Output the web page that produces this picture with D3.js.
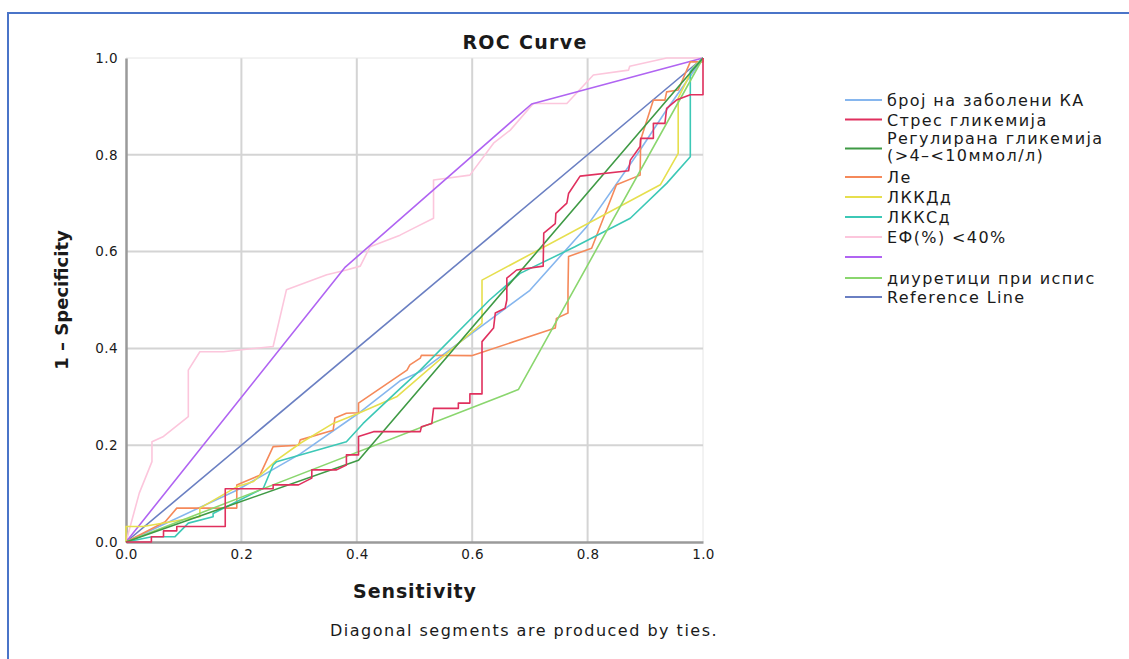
<!DOCTYPE html>
<html>
<head>
<meta charset="utf-8">
<script src="https://cdn.jsdelivr.net/npm/d3@7"></script>
<style>
  html, body { margin: 0; padding: 0; background: #fff; }
  svg { display: block; }
  text { font-family: "DejaVu Sans", "Noto Sans", sans-serif; fill: #1a1a1a; }
</style>
</head>
<body>
<svg id="chart" width="1129" height="659"></svg>
<script>
// Axis ticks
const tickValues = [0, 0.2, 0.4, 0.6, 0.8, 1.0];

// Series names, in legend order
const seriesNames = [
  "број на заболени КА",
  "Стрес гликемија",
  "Регулирана гликемија\n(>4–<10ммол/л)",
  "Ле",
  "ЛККДд",
  "ЛККСд",
  "ЕФ(%) <40%",
  "",
  "диуретици при испис",
  "Reference Line"
];
const seriesColors = [
  "#86b6ee", "#e0305e", "#3f9a45", "#f5895a", "#e6df4e",
  "#3cc8b6", "#fcc6dc", "#b064f2", "#8ad66e", "#6a7fc2"
];

// ROC coordinates [x, y] for each variable
const brojKA = [[0,0],[0.192,0.107],[0.302,0.182],[0.403,0.266],[0.475,0.333],[0.51,0.352],[0.70,0.52],[0.798,0.651],[0.891,0.81],[0.937,0.893],[1,1]];
const stresGlik = [[0,0],[0.044,0],[0.044,0.011],[0.065,0.011],[0.065,0.023],[0.088,0.023],[0.088,0.032],[0.172,0.032],[0.172,0.11],[0.192,0.11],[0.255,0.11],[0.255,0.118],[0.299,0.118],[0.322,0.132],[0.322,0.149],[0.365,0.149],[0.382,0.159],[0.382,0.18],[0.403,0.18],[0.403,0.218],[0.429,0.228],[0.51,0.228],[0.512,0.238],[0.53,0.245],[0.533,0.276],[0.576,0.276],[0.576,0.287],[0.596,0.287],[0.596,0.306],[0.617,0.306],[0.617,0.414],[0.637,0.442],[0.64,0.473],[0.657,0.483],[0.66,0.5],[0.66,0.545],[0.677,0.562],[0.723,0.570],[0.724,0.638],[0.744,0.658],[0.745,0.679],[0.764,0.70],[0.767,0.72],[0.787,0.756],[0.871,0.767],[0.874,0.789],[0.891,0.817],[0.892,0.834],[0.914,0.834],[0.914,0.865],[0.934,0.865],[0.937,0.896],[0.954,0.913],[0.978,0.924],[1,0.924],[1,1]];
const regGlik = [[0,0],[0.403,0.169],[1,1]];
const le = [[0,0],[0.068,0.042],[0.088,0.07],[0.192,0.07],[0.192,0.118],[0.232,0.138],[0.255,0.197],[0.299,0.2],[0.302,0.211],[0.359,0.231],[0.362,0.256],[0.382,0.266],[0.403,0.267],[0.403,0.287],[0.487,0.355],[0.492,0.366],[0.51,0.38],[0.512,0.386],[0.599,0.385],[0.744,0.442],[0.746,0.462],[0.766,0.473],[0.766,0.52],[0.767,0.59],[0.807,0.607],[0.85,0.738],[0.891,0.758],[0.892,0.831],[0.914,0.913],[0.934,0.913],[0.937,0.93],[0.957,0.934],[0.978,0.992],[1,0.992],[1,1]];
const lkkdd = [[0,0],[0,0.032],[0.03,0.032],[0.128,0.052],[0.128,0.07],[0.192,0.114],[0.221,0.125],[0.261,0.169],[0.302,0.204],[0.359,0.245],[0.403,0.266],[0.469,0.30],[0.617,0.452],[0.617,0.541],[0.926,0.738],[0.957,0.803],[0.957,0.917],[0.984,0.982],[1,1]];
const lkksd = [[0,0],[0.045,0.011],[0.085,0.011],[0.108,0.039],[0.151,0.052],[0.151,0.059],[0.238,0.111],[0.255,0.159],[0.261,0.166],[0.382,0.207],[0.411,0.245],[0.475,0.317],[0.51,0.355],[0.63,0.50],[0.683,0.555],[0.778,0.61],[0.874,0.669],[0.937,0.741],[0.978,0.796],[0.978,0.972],[1,1]];
const ef40 = [[0,0],[0.023,0.101],[0.045,0.166],[0.045,0.207],[0.065,0.218],[0.108,0.259],[0.108,0.355],[0.128,0.393],[0.169,0.393],[0.255,0.404],[0.278,0.521],[0.348,0.552],[0.382,0.562],[0.406,0.570],[0.423,0.61],[0.475,0.634],[0.498,0.648],[0.533,0.669],[0.533,0.748],[0.596,0.758],[0.637,0.824],[0.666,0.851],[0.706,0.906],[0.764,0.906],[0.81,0.965],[0.871,0.975],[0.873,0.983],[0.937,1],[1,1]];
const unnamed = [[0,0],[0.38,0.568],[0.703,0.905],[1,1]];
const diuretici = [[0,0],[0.68,0.315],[1,1]];
const referenceLine = [[0,0],[1,1]];

const seriesData = [brojKA, stresGlik, regGlik, le, lkkdd, lkksd, ef40, unnamed, diuretici, referenceLine];
// draw order: pale curves first so the stronger ones sit on top
const drawOrder = [6, 9, 7, 0, 3, 4, 5, 8, 2, 1];

const svg = d3.select("#chart");

// Frame
svg.append("line").attr("x1", 8).attr("x2", 1129).attr("y1", 13).attr("y2", 13)
  .attr("stroke", "#4a74c8").attr("stroke-width", 2);
svg.append("line").attr("x1", 8).attr("x2", 8).attr("y1", 12).attr("y2", 659)
  .attr("stroke", "#4a74c8").attr("stroke-width", 2);

const plot = { left: 126, right: 703, top: 58, bottom: 542 };
const x = d3.scaleLinear().domain([0, 1]).range([plot.left, plot.right]);
const y = d3.scaleLinear().domain([0, 1]).range([plot.bottom, plot.top]);

// Grid
const grid = svg.append("g");
grid.selectAll("line.gx").data(tickValues.slice(1)).join("line")
  .attr("x1", d => x(d)).attr("x2", d => x(d))
  .attr("y1", plot.top).attr("y2", plot.bottom)
  .attr("stroke", d => d === 1 ? "#e6e6e6" : "#d4d4d4").attr("stroke-width", d => d === 1 ? 1 : 2);
grid.selectAll("line.gy").data(tickValues.slice(1)).join("line")
  .attr("x1", plot.left).attr("x2", plot.right)
  .attr("y1", d => y(d)).attr("y2", d => y(d))
  .attr("stroke", d => d === 1 ? "#e6e6e6" : "#d4d4d4").attr("stroke-width", d => d === 1 ? 1 : 2);

// Axes
const fmt = d3.format(".1f");
const xAxis = svg.append("g").attr("transform", `translate(0,${plot.bottom})`)
  .call(d3.axisBottom(x).tickValues(tickValues).tickFormat(fmt).tickSize(0).tickPadding(7));
const yAxis = svg.append("g").attr("transform", `translate(${plot.left},0)`)
  .call(d3.axisLeft(y).tickValues(tickValues).tickFormat(fmt).tickSize(0).tickPadding(8));
[xAxis, yAxis].forEach(a => {
  a.select(".domain").attr("stroke", "#9a9a9a").attr("stroke-width", 2.5);
  a.selectAll("text").attr("font-size", 13.5).attr("font-family", "DejaVu Sans, sans-serif")
    .attr("fill", "#222").attr("letter-spacing", 0.4);
});

// Curves
const line = d3.line().x(d => x(d[0])).y(d => y(d[1]));
svg.append("g").selectAll("path").data(drawOrder).join("path")
  .attr("d", i => line(seriesData[i]))
  .attr("fill", "none")
  .attr("stroke", i => seriesColors[i])
  .attr("stroke-width", 1.6)
  .attr("stroke-linejoin", "round");

// Titles
svg.append("text").attr("x", 525).attr("y", 49).attr("text-anchor", "middle")
  .attr("font-size", 19).attr("font-weight", "bold").attr("letter-spacing", 1.3).text("ROC Curve");
svg.append("text").attr("x", 415).attr("y", 598).attr("text-anchor", "middle")
  .attr("font-size", 19).attr("font-weight", "bold").attr("letter-spacing", 0.9).text("Sensitivity");
svg.append("text").attr("transform", "translate(68,300) rotate(-90)").attr("text-anchor", "middle")
  .attr("font-size", 18).attr("font-weight", "bold").text("1 – Specificity");
svg.append("text").attr("x", 330).attr("y", 636)
  .attr("font-size", 16).attr("letter-spacing", 1.5).text("Diagonal segments are produced by ties.");

// Legend
const legendRows = [100, 119.5, 148.5, 177, 197, 217, 237, 257, 278, 297];
const legend = svg.append("g");
seriesNames.forEach((name, i) => {
  const ly = legendRows[i];
  legend.append("line").attr("x1", 845).attr("x2", 882).attr("y1", ly).attr("y2", ly)
    .attr("stroke", seriesColors[i]).attr("stroke-width", 2.2);
  const lines = name.split("\n");
  const t = legend.append("text").attr("x", 887).attr("font-size", 16).attr("letter-spacing", 1.4);
  if (lines.length === 1) {
    t.attr("y", ly + 6).text(name);
  } else {
    t.append("tspan").attr("x", 887).attr("y", ly - 5).text(lines[0]);
    t.append("tspan").attr("x", 887).attr("y", ly + 12).text(lines[1]);
  }
});
</script>
</body>
</html>
